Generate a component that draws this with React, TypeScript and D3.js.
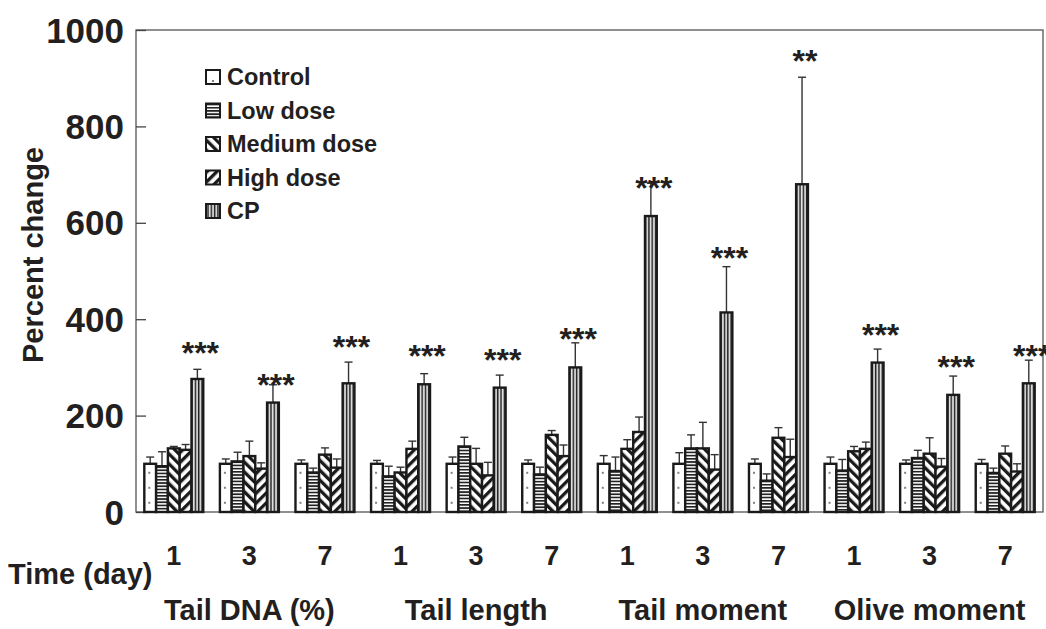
import { useRef, useEffect } from 'react';
import * as d3 from 'd3';

// group labels
const days = ['1', '3', '7', '1', '3', '7', '1', '3', '7', '1', '3', '7'];
const endpoints = ['Tail DNA (%)', 'Tail length', 'Tail moment', 'Olive moment'];
const seriesNames = ['Control', 'Low dose', 'Medium dose', 'High dose', 'CP'];
const yTicks = [0, 200, 400, 600, 800, 1000];

// means (percent change) per group
const control = [100, 100, 100, 100, 100, 100, 100, 100, 100, 100, 100, 100];
const lowDose = [95, 105, 82, 74, 136, 78, 85, 132, 65, 86, 112, 81];
const mediumDose = [132, 116, 119, 82, 100, 160, 131, 132, 154, 126, 121, 121];
const highDose = [129, 90, 92, 131, 76, 116, 166, 88, 114, 131, 94, 84];
const cp = [276, 227, 267, 265, 258, 300, 614, 414, 680, 310, 243, 267];

// upper error (SD)
const controlErr = [14, 10, 8, 7, 14, 8, 17, 23, 10, 14, 8, 9];
const lowErr = [30, 19, 9, 21, 19, 15, 29, 28, 14, 23, 16, 10];
const mediumErr = [4, 31, 14, 11, 32, 9, 19, 54, 21, 10, 33, 16];
const highErr = [11, 12, 18, 16, 27, 23, 31, 31, 37, 14, 17, 16];
const cpErr = [20, 37, 44, 22, 26, 51, 68, 95, 222, 28, 39, 48];

// significance marks over the CP bars, and the level they sit at
const sigLabels = ['***', '***', '***', '***', '***', '***', '***', '***', '**', '***', '***', '***'];
const sigLevel = [346, 281, 359, 340, 331, 375, 689, 543, 952, 384, 317, 340];

const means = [control, lowDose, mediumDose, highDose, cp];
const errs = [controlErr, lowErr, mediumErr, highErr, cpErr];

const FONT = "'Liberation Sans', Arial, Helvetica, sans-serif";

// one pattern per series, x-aligned to the rect that uses it
function addPattern(defs: any, id: string, kind: number, x0: number, y0: number) {
  const p = defs.append('pattern').attr('id', id).attr('patternUnits', 'userSpaceOnUse');
  if (kind === 0) {
    p.attr('x', x0).attr('y', y0).attr('width', 12).attr('height', 15);
    p.append('rect').attr('width', 12).attr('height', 15).attr('fill', '#fff');
    p.append('circle').attr('cx', 5).attr('cy', 9).attr('r', 0.9).attr('fill', '#444');
  } else if (kind === 1) {
    p.attr('x', x0).attr('y', y0).attr('width', 10).attr('height', 3.2);
    p.append('rect').attr('width', 10).attr('height', 3.2).attr('fill', '#fff');
    p.append('rect').attr('width', 10).attr('height', 1.7).attr('fill', '#222');
  } else if (kind === 2 || kind === 3) {
    p.attr('x', x0).attr('y', y0).attr('width', 7).attr('height', 7)
      .attr('patternTransform', `rotate(${kind === 2 ? -45 : 45})`);
    p.append('rect').attr('width', 7).attr('height', 7).attr('fill', '#fff');
    p.append('rect').attr('width', 3.3).attr('height', 7).attr('fill', '#1a1a1a');
  } else {
    p.attr('x', x0).attr('y', y0).attr('width', 3.3).attr('height', 10);
    p.append('rect').attr('width', 3.3).attr('height', 10).attr('fill', '#bbb');
    p.append('rect').attr('x', 0).attr('width', 1.3).attr('height', 10).attr('fill', '#222');
    p.append('rect').attr('x', 2).attr('width', 0.6).attr('height', 10).attr('fill', '#fff');
  }
}

export default function App() {
  const svgRef = useRef(null);
  const width = 1046;
  const height = 629;

  useEffect(() => {
    const svg = d3.select(svgRef.current);
    svg.selectAll('*').remove();
    const defs = svg.append('defs');

    const left = 136;
    const right = 1043;
    const top = 30;
    const bottom = 512;

    const x = d3.scaleBand<number>()
      .domain(d3.range(days.length))
      .range([left, right])
      .paddingInner(0.22)
      .paddingOuter(0.11);
    const xs = d3.scaleBand<number>()
      .domain(d3.range(seriesNames.length))
      .range([0, x.bandwidth()]);
    const y = d3.scaleLinear().domain([0, 1000]).range([bottom, top]);

    // frame
    svg.append('rect')
      .attr('x', left).attr('y', top)
      .attr('width', right - left).attr('height', bottom - top)
      .attr('fill', 'none').attr('stroke', '#555').attr('stroke-width', 1.3);

    // y axis, ticks inside
    const yAxis = svg.append('g').attr('transform', `translate(${left},0)`)
      .call(d3.axisRight(y).tickValues(yTicks).tickSize(10).tickFormat(() => ''));
    yAxis.select('.domain').remove();
    yAxis.selectAll('line').attr('stroke', '#444').attr('stroke-width', 1.3);

    svg.append('g').selectAll('text').data(yTicks).join('text')
      .attr('x', 124).attr('y', (d) => y(d)).attr('dy', '0.36em')
      .attr('text-anchor', 'end')
      .style('font', `bold 35px ${FONT}`).attr('fill', '#231f20')
      .text((d) => d);

    svg.append('text')
      .attr('transform', `translate(43,255) rotate(-90)`)
      .attr('text-anchor', 'middle')
      .style('font', `bold 29px ${FONT}`).attr('fill', '#231f20')
      .text('Percent change');

    // bars
    means.forEach((vals, s) => {
      vals.forEach((v, i) => {
        const bx = (x(i) as number) + (xs(s) as number);
        const bw = xs.bandwidth();
        const pid = `pat-${s}-${i}`;
        addPattern(defs, pid, s, bx, y(v));
        const e = errs[s][i];
        svg.append('line')
          .attr('x1', bx + bw / 2).attr('x2', bx + bw / 2)
          .attr('y1', y(v)).attr('y2', y(v + e))
          .attr('stroke', '#333').attr('stroke-width', 1.4);
        svg.append('line')
          .attr('x1', bx + bw / 2 - 4).attr('x2', bx + bw / 2 + 4)
          .attr('y1', y(v + e)).attr('y2', y(v + e))
          .attr('stroke', '#333').attr('stroke-width', 1.4);
        svg.append('rect')
          .attr('x', bx).attr('y', y(v))
          .attr('width', bw).attr('height', bottom - y(v))
          .attr('fill', `url(#${pid})`)
          .attr('stroke', '#1a1a1a').attr('stroke-width', 2.4);
      });
    });

    // significance stars
    svg.append('g').selectAll('text').data(sigLabels).join('text')
      .attr('x', (_, i) => (x(i) as number) + (xs(4) as number) + xs.bandwidth() / 2 + 3)
      .attr('y', (_, i) => y(sigLevel[i]) + 19)
      .attr('text-anchor', 'middle')
      .style('font', `bold 32px ${FONT}`).attr('fill', '#231f20')
      .text((d) => d);

    // x labels
    svg.append('g').selectAll('text').data(days).join('text')
      .attr('x', (_, i) => (x(i) as number) + x.bandwidth() / 2)
      .attr('y', 565)
      .attr('text-anchor', 'middle')
      .style('font', `bold 27px ${FONT}`).attr('fill', '#231f20')
      .text((d) => d);

    svg.append('text')
      .attr('x', 8).attr('y', 584)
      .style('font', `bold 29px ${FONT}`).attr('fill', '#231f20')
      .text('Time (day)');

    svg.append('g').selectAll('text').data(endpoints).join('text')
      .attr('x', (_, k) => ((x(k * 3) as number) + (x(k * 3 + 2) as number) + x.bandwidth()) / 2)
      .attr('y', 620)
      .attr('text-anchor', 'middle')
      .style('font', `bold 29px ${FONT}`).attr('fill', '#231f20')
      .text((d) => d);

    // legend
    const legend = svg.append('g').attr('transform', 'translate(206,77)');
    seriesNames.forEach((name, s) => {
      const ly = s * 33.5;
      addPattern(defs, `leg-${s}`, s, 206, 70 + ly);
      legend.append('rect')
        .attr('x', 0).attr('y', ly - 7)
        .attr('width', 14).attr('height', 14)
        .attr('fill', `url(#leg-${s})`)
        .attr('stroke', '#1a1a1a').attr('stroke-width', 2);
      legend.append('text')
        .attr('x', 21).attr('y', ly).attr('dy', '0.36em')
        .style('font', `bold 23.5px ${FONT}`).attr('fill', '#231f20')
        .text(name);
    });
  }, []);

  return (
    <svg
      ref={svgRef}
      width={width}
      height={height}
      style={{ position: 'absolute', left: 0, top: 0, background: '#fff' }}
    />
  );
}
